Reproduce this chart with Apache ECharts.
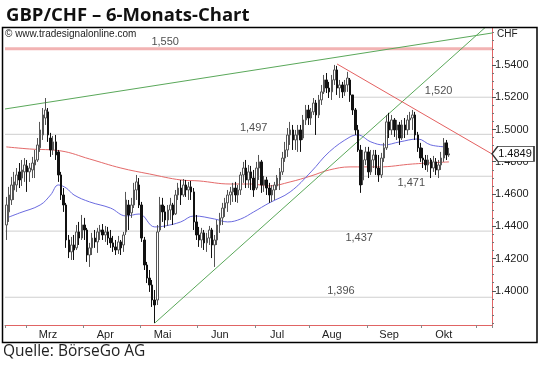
<!DOCTYPE html>
<html><head><meta charset="utf-8">
<script src="https://cdn.jsdelivr.net/npm/echarts@6/dist/echarts.min.js"></script>
<style>html,body{margin:0;padding:0;background:#fff}#c{width:540px;height:365px}</style>
</head><body><div id="c"></div>
<script>
// ---- calendar (trading days per month shown on the axis) ----
const monthNames   = ['Feb','Mrz','Apr','Mai','Jun','Jul','Aug','Sep','Okt','Nov'];
const tradingDays  = [8, 22, 22, 22, 22, 21, 22, 21, 21, 6];
const labelledMonths = ['Mrz','Apr','Mai','Jun','Jul','Aug','Sep','Okt'];

// ---- daily candles ----
const opens = [
1.4408,1.4489,1.4563,1.4625,1.4656,1.4737,1.4699,1.4737,1.4774,1.4737,
1.4749,1.4780,1.4811,1.4886,1.4966,1.5071,1.5109,1.4947,1.4873,1.4923,
1.4861,1.4718,1.4594,1.4532,1.4315,1.4241,1.4284,1.4266,1.4365,1.4327,
1.4408,1.4377,1.4222,1.4266,1.4327,1.4303,1.4365,1.4377,1.4346,1.4365,
1.4327,1.4297,1.4272,1.4253,1.4303,1.4284,1.4365,1.4532,1.4483,1.4532,
1.4625,1.4656,1.4532,1.4315,1.4160,1.4079,1.4036,1.3943,1.3943,1.4377,
1.4532,1.4489,1.4439,1.4501,1.4532,1.4477,1.4594,1.4637,1.4594,1.4656,
1.4625,1.4644,1.4613,1.4427,1.4346,1.4315,1.4359,1.4297,1.4327,1.4377,
1.4284,1.4315,1.4408,1.4452,1.4513,1.4545,1.4594,1.4613,1.4637,1.4594,
1.4625,1.4718,1.4761,1.4687,1.4737,1.4699,1.4637,1.4761,1.4799,1.4656,
1.4687,1.4637,1.4594,1.4625,1.4650,1.4687,1.4737,1.4823,1.4873,1.4966,
1.4997,1.4935,1.4966,1.4997,1.4947,1.5059,1.5121,1.5071,1.5109,1.5164,
1.5090,1.5183,1.5233,1.5307,1.5257,1.5233,1.5307,1.5369,1.5257,1.5276,
1.5233,1.5276,1.5307,1.5214,1.5121,1.4997,1.4873,1.4687,1.4811,1.4861,
1.4737,1.4811,1.4842,1.4761,1.4718,1.4823,1.4886,1.5047,1.4997,1.5059,
1.4997,1.5028,1.4947,1.5028,1.4997,1.5059,1.5071,1.5090,1.4966,1.4886,
1.4823,1.4811,1.4780,1.4811,1.4761,1.4799,1.4749,1.4780,1.4823,1.4917,
1.4842];
const closes = [
1.4532,1.4594,1.4656,1.4675,1.4718,1.4687,1.4749,1.4780,1.4737,1.4761,
1.4792,1.4811,1.4904,1.4997,1.5090,1.5121,1.4966,1.4873,1.4923,1.4842,
1.4718,1.4594,1.4532,1.4315,1.4241,1.4284,1.4253,1.4365,1.4327,1.4408,
1.4377,1.4222,1.4266,1.4327,1.4303,1.4365,1.4377,1.4346,1.4365,1.4327,
1.4297,1.4272,1.4253,1.4303,1.4266,1.4346,1.4563,1.4470,1.4532,1.4625,
1.4675,1.4532,1.4327,1.4160,1.4079,1.4036,1.3943,1.3912,1.4365,1.4532,
1.4489,1.4439,1.4501,1.4532,1.4470,1.4594,1.4637,1.4594,1.4656,1.4625,
1.4644,1.4613,1.4427,1.4346,1.4315,1.4359,1.4297,1.4327,1.4377,1.4284,
1.4315,1.4408,1.4452,1.4513,1.4545,1.4594,1.4613,1.4637,1.4594,1.4625,
1.4718,1.4761,1.4687,1.4737,1.4699,1.4625,1.4761,1.4799,1.4656,1.4687,
1.4637,1.4594,1.4625,1.4656,1.4699,1.4737,1.4823,1.4873,1.4966,1.4997,
1.4935,1.4966,1.4997,1.4935,1.5059,1.5121,1.5071,1.5109,1.5164,1.5090,
1.5183,1.5233,1.5307,1.5257,1.5233,1.5307,1.5369,1.5257,1.5276,1.5233,
1.5276,1.5319,1.5214,1.5121,1.4997,1.4873,1.4656,1.4811,1.4861,1.4737,
1.4811,1.4842,1.4761,1.4718,1.4823,1.4886,1.5047,1.4997,1.5059,1.4997,
1.5028,1.4947,1.5028,1.4997,1.5059,1.5071,1.5090,1.4966,1.4886,1.4823,
1.4811,1.4780,1.4811,1.4761,1.4799,1.4749,1.4780,1.4823,1.4917,1.4842,
1.4849];
const lows = [
1.4315,1.4427,1.4532,1.4563,1.4613,1.4637,1.4650,1.4675,1.4613,1.4675,
1.4699,1.4699,1.4799,1.4861,1.4935,1.5028,1.4923,1.4830,1.4842,1.4811,
1.4675,1.4563,1.4489,1.4266,1.4203,1.4191,1.4191,1.4253,1.4284,1.4315,
1.4315,1.4179,1.4148,1.4222,1.4266,1.4235,1.4315,1.4315,1.4303,1.4284,
1.4266,1.4241,1.4222,1.4228,1.4222,1.4241,1.4346,1.4377,1.4452,1.4513,
1.4563,1.4513,1.4303,1.4129,1.4048,1.3993,1.3900,1.3800,1.3912,1.4365,
1.4427,1.4390,1.4402,1.4439,1.4408,1.4470,1.4563,1.4532,1.4582,1.4582,
1.4563,1.4563,1.4377,1.4315,1.4272,1.4266,1.4253,1.4241,1.4284,1.4203,
1.4148,1.4284,1.4359,1.4408,1.4458,1.4489,1.4532,1.4551,1.4551,1.4545,
1.4594,1.4669,1.4637,1.4637,1.4625,1.4582,1.4625,1.4687,1.4607,1.4613,
1.4594,1.4545,1.4551,1.4563,1.4625,1.4625,1.4718,1.4799,1.4830,1.4904,
1.4873,1.4873,1.4861,1.4861,1.4935,1.5028,1.5028,1.5028,1.5090,1.4966,
1.5071,1.5152,1.5220,1.5226,1.5195,1.5183,1.5276,1.5214,1.5195,1.5195,
1.5208,1.5233,1.5171,1.5090,1.4966,1.4861,1.4607,1.4656,1.4780,1.4699,
1.4718,1.4761,1.4718,1.4675,1.4699,1.4799,1.4873,1.4947,1.4966,1.4954,
1.4935,1.4904,1.4935,1.4947,1.4966,1.4997,1.4997,1.4935,1.4861,1.4799,
1.4761,1.4749,1.4737,1.4699,1.4737,1.4718,1.4699,1.4749,1.4799,1.4811,
1.4830];
const highs = [
1.4582,1.4644,1.4706,1.4737,1.4761,1.4792,1.4811,1.4823,1.4811,1.4792,
1.4830,1.4873,1.4947,1.5047,1.5133,1.5195,1.5133,1.4979,1.4960,1.4966,
1.4873,1.4737,1.4637,1.4545,1.4346,1.4334,1.4346,1.4408,1.4427,1.4470,
1.4452,1.4390,1.4297,1.4359,1.4377,1.4390,1.4408,1.4414,1.4402,1.4396,
1.4377,1.4340,1.4315,1.4340,1.4315,1.4365,1.4613,1.4563,1.4576,1.4669,
1.4718,1.4699,1.4551,1.4334,1.4179,1.4129,1.4067,1.4005,1.4408,1.4582,
1.4576,1.4526,1.4532,1.4576,1.4545,1.4625,1.4669,1.4687,1.4693,1.4687,
1.4675,1.4681,1.4637,1.4470,1.4396,1.4390,1.4377,1.4359,1.4402,1.4390,
1.4346,1.4439,1.4483,1.4545,1.4576,1.4625,1.4644,1.4669,1.4675,1.4656,
1.4737,1.4799,1.4811,1.4780,1.4774,1.4749,1.4799,1.4842,1.4811,1.4712,
1.4706,1.4669,1.4656,1.4675,1.4718,1.4761,1.4861,1.4923,1.5009,1.5047,
1.5028,1.4997,1.5028,1.5028,1.5090,1.5152,1.5152,1.5133,1.5195,1.5183,
1.5214,1.5276,1.5338,1.5350,1.5295,1.5338,1.5400,1.5394,1.5307,1.5295,
1.5307,1.5357,1.5319,1.5214,1.5133,1.5028,1.4904,1.4873,1.4892,1.4892,
1.4873,1.4873,1.4873,1.4842,1.4855,1.4917,1.5090,1.5103,1.5090,1.5071,
1.5059,1.5047,1.5059,1.5071,1.5090,1.5109,1.5121,1.5109,1.4985,1.4917,
1.4886,1.4842,1.4842,1.4823,1.4836,1.4823,1.4811,1.4861,1.4947,1.4935,
1.4886];

// ---- moving averages: [trading-day index, value] ----
const maRed = [[0,1.4892],[9,1.4879],[21,1.4867],[32,1.4817],[44,1.4761],[55,1.4724],
  [67,1.4687],[74,1.4681],[86,1.4662],[94,1.4662],[101,1.4650],[109,1.4675],[117,1.4712],
  [124,1.4749],[132,1.4768],[143,1.4768],[156,1.4786],[170,1.4799]];
const maBlue = [[0,1.4451],[5,1.4482],[13,1.4532],[17,1.4594],[20,1.4656],[23,1.4637],
  [26,1.4594],[32,1.4551],[40,1.4513],[46,1.4464],[51,1.4476],[57,1.4396],[61,1.4402],
  [67,1.4427],[72,1.4464],[80,1.4445],[85,1.4427],[90,1.4445],[95,1.4489],[101,1.4545],
  [109,1.4613],[117,1.4737],[124,1.4861],[132,1.4954],[135,1.4966],[140,1.4923],
  [145,1.4904],[151,1.4923],[158,1.4941],[163,1.4904],[169,1.4892]];

// ---- trend lines: [trading-day index, value] end points ----
const trendUpperGreen = [[-0.5,1.5127],[186.5,1.5598]];
const trendRisingGreen = [[57,1.3800],[186.5,1.5670]];
const trendFallingRed = [[127,1.5406],[186.5,1.4848]];

// ---- horizontal levels ----
const levelValues = [1.550, 1.520, 1.497, 1.471, 1.437, 1.396];
const levelLabels = ['1,550','1,520','1,497','1,471','1,437','1,396'];

// ---- price axis ----
const priceTicks = [1.40,1.42,1.44,1.46,1.48,1.50,1.52,1.54];
const lastPrice = 1.4849;

// ---------------------------------------------------------------
const categories = [];
const monthStart = [];
const labelIndex = {};
monthNames.forEach((m, k) => {
  monthStart.push(categories.length);
  if (labelledMonths.includes(m)) labelIndex[categories.length + 8] = m;
  for (let d = 0; d < tradingDays[k]; d++) categories.push(m + ' ' + (d + 1));
});
const N = categories.length;
const candles = opens.map((o, i) => [o, closes[i], lows[i], highs[i]]);

const minorTicks = [];
for (let v = 1.380; v < 1.5625; v += 0.005) {
  const r = Math.round(v * 1000) / 1000;
  if (!priceTicks.some(t => Math.abs(t - r) < 1e-6)) minorTicks.push(r);
}

// level line layout (where each line begins, as slot index) and label placement
const levelStartSlot = [-0.5, 133, -0.5, 51, -0.5, -0.5];
const levelLabelSlot = [61, 166, 95, 155.5, 135.5, 128.5];
const levelLabelPos  = ['top','top','top','bottom','bottom','top'];
const levelColor = ['#f2b3b3','#cfcfcf','#cfcfcf','#cfcfcf','#cfcfcf','#cfcfcf'];
const levelWidth = [3, 1, 1, 1, 1, 1];

const series = [];
levelValues.forEach((v, k) => {
  series.push({
    type: 'line', xAxisIndex: 1, yAxisIndex: 0, silent: true, symbol: 'none', z: 1,
    lineStyle: { color: levelColor[k], width: levelWidth[k] },
    data: [[levelStartSlot[k], v], [N - 0.5, v]]
  });
});
series.push({
  type: 'scatter', xAxisIndex: 1, yAxisIndex: 0, symbolSize: 0, silent: true, z: 5,
  data: levelValues.map((v, k) => ({
    value: [levelLabelSlot[k], v],
    label: { show: true, position: levelLabelPos[k], distance: 1, formatter: levelLabels[k],
      color: '#222', fontSize: 11, fontFamily: 'Liberation Sans, Arial' }
  }))
});
series.push({
  type: 'line', xAxisIndex: 1, yAxisIndex: 0, data: maRed, smooth: 0.4, symbol: 'none', silent: true, z: 3,
  lineStyle: { color: '#e46a6a', width: 1 }
});
series.push({
  type: 'line', xAxisIndex: 1, yAxisIndex: 0, data: maBlue, smooth: 0.4, symbol: 'none', silent: true, z: 3,
  lineStyle: { color: '#6b6be0', width: 1 }
});
series.push({
  type: 'candlestick', xAxisIndex: 0, yAxisIndex: 0, data: candles, barWidth: 2, z: 4,
  itemStyle: { color: '#ffffff', color0: '#111111', borderColor: '#555555', borderColor0: '#111111', borderWidth: 1 }
});
series.push({
  type: 'line', xAxisIndex: 1, yAxisIndex: 0, data: trendUpperGreen, symbol: 'none', silent: true, z: 3,
  lineStyle: { color: '#5aa85a', width: 1 }
});
series.push({
  type: 'line', xAxisIndex: 1, yAxisIndex: 0, data: trendRisingGreen, symbol: 'none', silent: true, z: 3,
  lineStyle: { color: '#5aa85a', width: 1 }
});
series.push({
  type: 'line', xAxisIndex: 1, yAxisIndex: 0, data: trendFallingRed, symbol: 'none', silent: true, z: 3,
  lineStyle: { color: '#e46060', width: 1 },
  markPoint: {
    silent: true,
    symbol: 'path://M0,7 L6,0 L44,0 L44,14 L6,14 Z',
    symbolSize: [42, 15], symbolKeepAspect: false, symbolOffset: [21, 0],
    itemStyle: { color: '#ffffff', borderColor: '#333', borderWidth: 1 },
    label: { show: true, position: 'inside', offset: [2, 0], formatter: lastPrice.toFixed(4),
      color: '#111', fontSize: 11, fontFamily: 'Liberation Sans, Arial' },
    data: [{ coord: [N - 0.5, lastPrice] }]
  }
});

const chart = echarts.init(document.getElementById('c'), null, { renderer: 'canvas' });
chart.setOption({
  animation: false,
  backgroundColor: '#ffffff',
  title: {
    text: 'GBP/CHF – 6-Monats-Chart', left: 1, top: 1,
    textStyle: { fontFamily: 'Open Sans', fontWeight: 'bold', fontSize: 18.5, color: '#111' }
  },
  grid: { left: 5, right: 48, top: 28, bottom: 40, containLabel: false },
  xAxis: [{
    type: 'category', data: categories, boundaryGap: true, position: 'bottom',
    axisLine: { show: true, onZero: false, lineStyle: { color: '#e06464', width: 1 } },
    axisTick: { show: true, length: 3, interval: (i) => monthStart.includes(i), lineStyle: { color: '#888' } },
    axisLabel: { interval: (i) => labelIndex[i] !== undefined, formatter: (v, i) => labelIndex[i] || '',
      color: '#222', fontSize: 11, fontFamily: 'Liberation Sans, Arial', margin: 4 },
    splitLine: { show: false }
  }, {
    type: 'value', min: -0.5, max: N - 0.5, show: false
  }],
  yAxis: [{
    type: 'value', position: 'right', min: 1.3788, max: 1.5629, scale: true,
    axisLine: { show: true, onZero: false, lineStyle: { color: '#e06464', width: 1 } },
    axisTick: { show: true, inside: false, length: 4, customValues: priceTicks, lineStyle: { color: '#555' } },
    axisLabel: { customValues: priceTicks, formatter: (v) => v.toFixed(4), color: '#222', fontSize: 11,
      fontFamily: 'Liberation Sans, Arial', margin: 3 },
    splitLine: { show: false }
  }, {
    type: 'value', position: 'right', min: 1.3788, max: 1.5629,
    axisLine: { show: false, onZero: false },
    axisTick: { show: true, length: 2, customValues: minorTicks, lineStyle: { color: '#777' } },
    axisLabel: { show: false }, splitLine: { show: false }
  }],
  graphic: [
    { type: 'rect', z: 100, shape: { x: 2.5, y: 27.5, width: 534.5, height: 315 },
      style: { fill: 'none', stroke: '#000', lineWidth: 1.5 } },
    { type: 'text', left: 5, top: 29, z: 100,
      style: { text: '© www.tradesignalonline.com', fill: '#222', fontSize: 10, fontFamily: 'Liberation Sans, Arial' } },
    { type: 'text', left: 497, top: 29, z: 100,
      style: { text: 'CHF', fill: '#222', fontSize: 10, fontFamily: 'Liberation Sans, Arial' } },
    { type: 'text', left: 3, top: 344, z: 100,
      style: { text: 'Quelle: BörseGo AG', fill: '#222', fontSize: 15.5, fontFamily: 'Open Sans' } }
  ],
  series: series
});
</script>
</body></html>
